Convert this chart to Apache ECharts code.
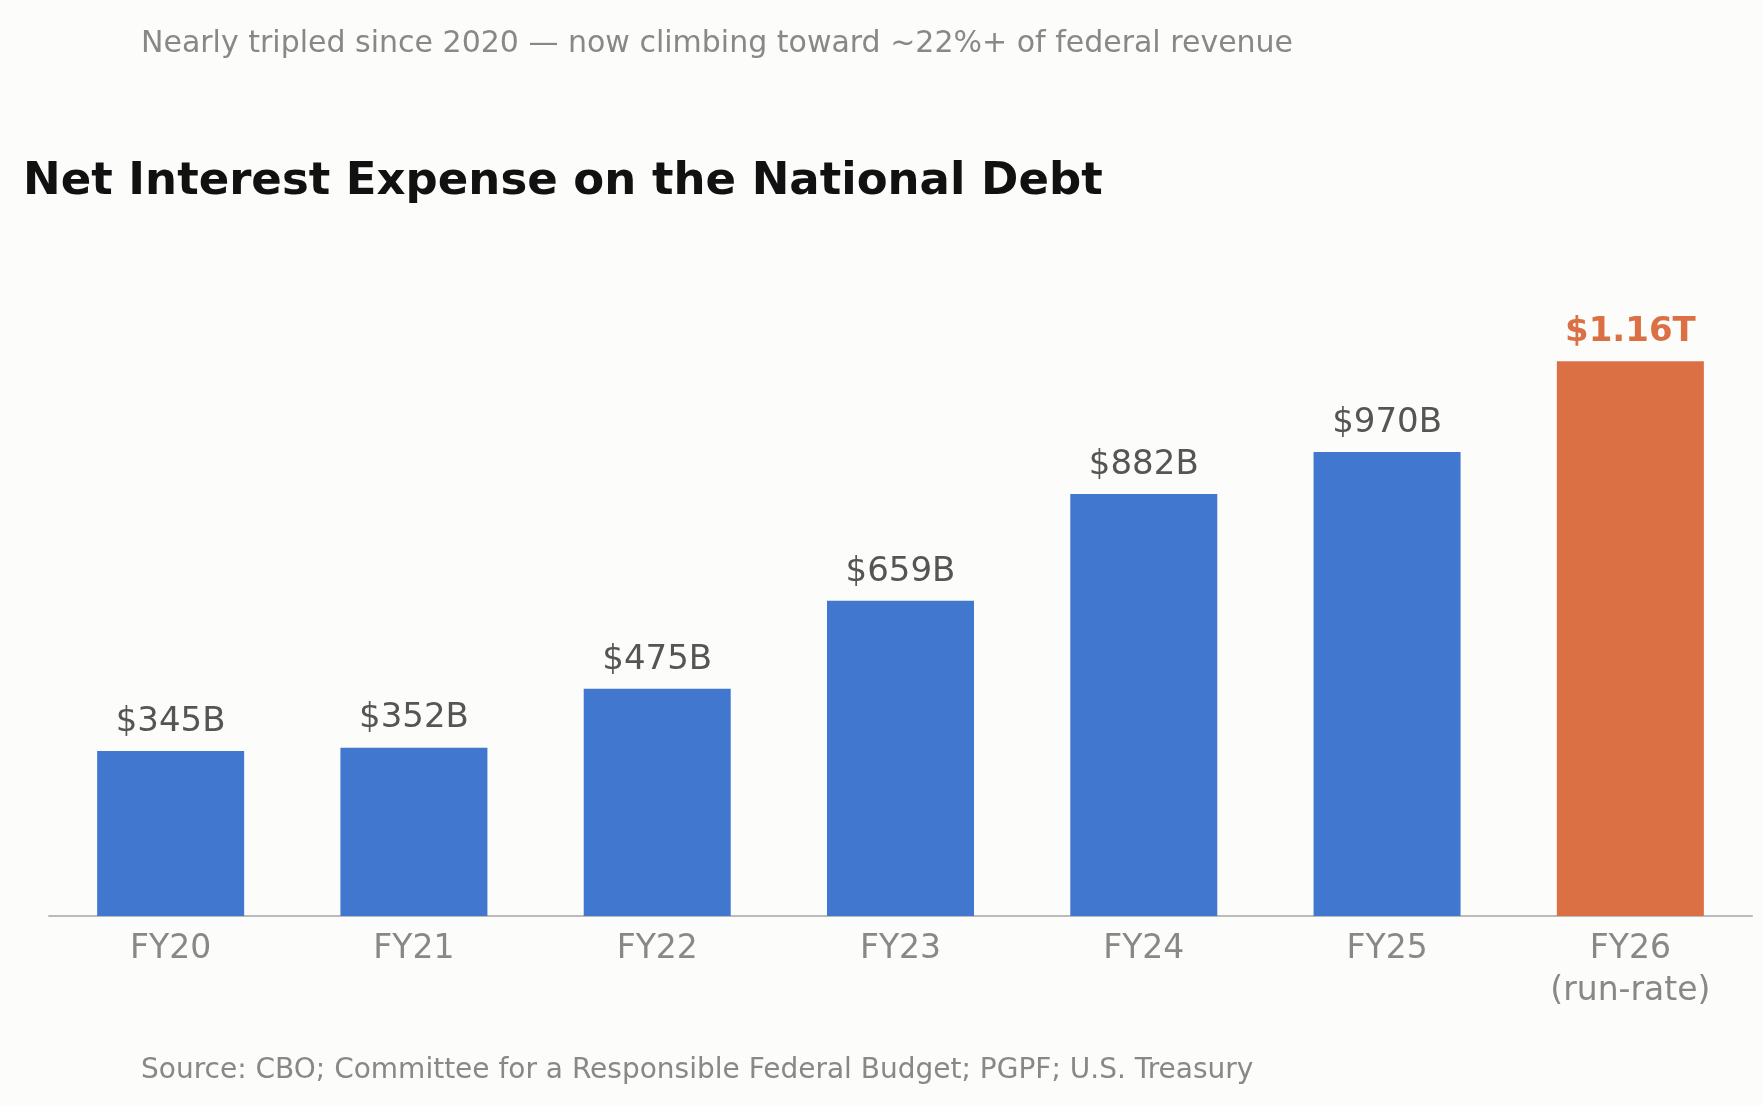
<!DOCTYPE html><html><head><meta charset="utf-8"><script src="https://cdn.jsdelivr.net/npm/echarts@6/dist/echarts.min.js"></script>
<style>html,body{margin:0;background:#fcfcfa}#c{width:1762px;height:1106px}</style></head><body><div id="c"></div><script>
const categories=['FY20','FY21','FY22','FY23','FY24','FY25','FY26\n(run-rate)'];
const values=[345,352,475,659,882,970,1160];
const labels=['$345B','$352B','$475B','$659B','$882B','$970B','$1.16T'];
const c=echarts.init(document.getElementById('c'));
c.setOption({backgroundColor:'#fcfcfa',
title:[{text:'Nearly tripled since 2020 — now climbing toward ~22%+ of federal revenue',left:136,top:24,textStyle:{fontFamily:'DejaVu Sans',fontSize:30,fontWeight:'normal',color:'#888'}},
{text:'Net Interest Expense on the National Debt',left:18,top:155,textStyle:{fontFamily:'DejaVu Sans',fontSize:45,fontWeight:'bold',color:'#111'}},
{text:'Source: CBO; Committee for a Responsible Federal Budget; PGPF; U.S. Treasury',left:136,top:1052,textStyle:{fontFamily:'DejaVu Sans',fontSize:28,fontWeight:'normal',color:'#888'}}],
grid:{left:49,right:10,top:342,bottom:190},
xAxis:{type:'category',data:categories,axisTick:{show:false},axisLine:{lineStyle:{color:'#bbb',width:2}},axisLabel:{fontFamily:'DejaVu Sans',fontSize:33,color:'#888',margin:12,lineHeight:42}},
yAxis:{type:'value',min:0,max:1200,show:false,splitLine:{show:false}},
series:[{type:'bar',barWidth:147,data:values.map((v,i)=>({value:v,itemStyle:{color:i===6?'#db7044':'#4277cf'},label:{show:true,position:'top',distance:12,formatter:labels[i],fontFamily:'DejaVu Sans',fontSize:34,color:i===6?'#db7044':'#555',fontWeight:i===6?'bold':'normal'}}))}]
});
</script></body></html>
